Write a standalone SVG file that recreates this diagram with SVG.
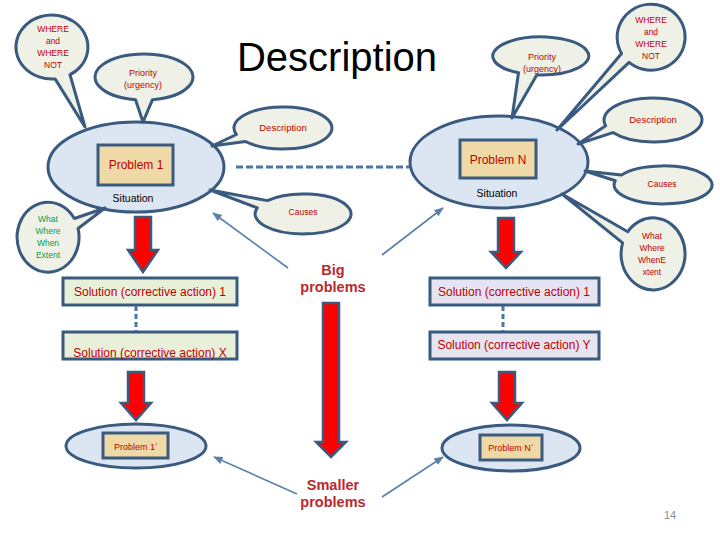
<svg xmlns="http://www.w3.org/2000/svg" width="720" height="540" viewBox="0 0 720 540">
<defs>
<marker id="ah" viewBox="0 0 10 10" refX="9" refY="5" markerWidth="6" markerHeight="6" orient="auto"><path d="M0,1 L10,5 L0,9 Z" fill="#5b80ab"/></marker>
<style>
text{font-family:"Liberation Sans",Arial,sans-serif;text-anchor:middle}
.main{fill:#dce6f2;stroke:#3a5a80;stroke-width:3}
.co{fill:#eff1e6;stroke:#3a5a80;stroke-width:3;stroke-linejoin:round}
.pr{fill:#efd9a6;stroke:#3a5a80;stroke-width:3}
.solg{fill:#e9f0da;stroke:#3a5a80;stroke-width:3}
.soll{fill:#e5e4f0;stroke:#3a5a80;stroke-width:3}
.arr{fill:#ff0000;stroke:#3a5a80;stroke-width:2.5;stroke-linejoin:miter}
.thin{stroke:#5b80ab;stroke-width:1.6;fill:none;marker-end:url(#ah)}
.dash{stroke:#4f74a8;stroke-width:3;stroke-dasharray:7 3;fill:none}
.r{fill:#c00000}
.g{fill:#00a050}
.s{font-size:8.5px}
.big{font-size:14.5px;font-weight:bold;fill:#b8282d}
</style>
</defs>
<rect width="720" height="540" fill="#ffffff"/>
<text x="337" y="71" style="font-size:40px" fill="#000">Description</text>
<g id="problem1">
<ellipse class="main" cx="136" cy="167" rx="88" ry="45"/>
<rect class="pr" x="98" y="145" width="75" height="40"/>
<text x="136" y="169" class="r" style="font-size:12px">Problem 1</text>
<text x="133" y="202" style="font-size:10.5px" fill="#000">Situation</text>
</g>
<g id="problemN">
<ellipse class="main" cx="499" cy="162" rx="89" ry="46"/>
<rect class="pr" x="460" y="140" width="76" height="38"/>
<text x="498" y="164" class="r" style="font-size:12px">Problem N</text>
<text x="497" y="197" style="font-size:10.5px" fill="#000">Situation</text>
</g>
<g id="where-left">
<path class="co" d="M70,74.7 A36 32 0 1 0 55.1,78.9 L85,127 Z"/>
<text class="r s" x="53" y="32">WHERE</text><text class="r s" x="53" y="44">and</text><text class="r s" x="53" y="56">WHERE</text><text class="r s" x="53" y="68">NOT</text>
</g>
<g id="priority-left">
<path class="co" d="M152.5,99.65 A49 23 0 1 0 135.5,99.65 L143,122 Z"/>
<text class="r" style="font-size:9px" x="143" y="76">Priority</text><text class="r" style="font-size:9px" x="143" y="88">(urgency)</text>
</g>
<g id="priority-right">
<path class="co" d="M536.8,74.9 A48 19 0 1 0 518.5,72.8 L512,118 Z"/>
<text class="r" style="font-size:9px" x="542" y="60">Priority</text><text class="r" style="font-size:9px" x="542" y="72">(urgency)</text>
</g>
<g id="where-right">
<path class="co" d="M629.1,62.3 A34 33 0 1 0 621.6,53.5 L557,130 Z"/>
<text class="r s" x="651" y="23">WHERE</text><text class="r s" x="651" y="35">and</text><text class="r s" x="651" y="47">WHERE</text><text class="r s" x="651" y="59">NOT</text>
</g>
<g id="description-right">
<path class="co" d="M612.9,132.6 A49 22 0 1 0 605.7,125.7 L578,144 Z"/>
<text class="r" style="font-size:9.5px" x="653" y="123">Description</text>
</g>
<g id="description-mid">
<path class="co" d="M245.5,141.5 A49 21 0 1 0 236.4,134.5 L212,146 Z"/>
<text class="r" style="font-size:9.5px" x="283" y="131">Description</text>
</g>
<g id="causes-left">
<path class="co" d="M257.4,207.8 A48 20 0 1 0 267.3,200.6 L210,190 Z"/>
<text class="r s" x="303" y="215">Causes</text>
</g>
<g id="causes-right">
<path class="co" d="M615.3,180.7 A49 19 0 1 0 621.4,174.9 L585,171 Z"/>
<text class="r s" x="662" y="187">Causes</text>
</g>
<g id="what-left">
<path class="co" d="M74.3,218.5 A31 35 0 1 0 78.1,228.5 L105,208 Z"/>
<text class="g s" x="48" y="222">What</text><text class="g s" x="48" y="234">Where</text><text class="g s" x="48" y="246">When</text><text class="g s" x="48" y="258">Extent</text>
</g>
<g id="what-right">
<path class="co" d="M622.6,242.9 A32 36 0 1 0 627.8,231.8 L562,194 Z"/>
<text class="r s" x="652" y="239">What</text><text class="r s" x="652" y="251">Where</text><text class="r s" x="652" y="263">WhenE</text><text class="r s" x="652" y="275">xtent</text>
</g>
<g id="solution-1-left">
<rect class="solg" x="63" y="278" width="174" height="27"/>
<text class="r" style="font-size:12px" x="150" y="296">Solution (corrective action) 1</text>
</g>
<g id="solution-x">
<rect class="solg" x="63" y="332" width="174" height="27"/>
<text class="r" style="font-size:12px" x="150" y="357">Solution (corrective action) X</text>
</g>
<g id="solution-1-right">
<rect class="soll" x="430" y="278" width="169" height="27"/>
<text class="r" style="font-size:12px" x="514" y="296">Solution (corrective action) 1</text>
</g>
<g id="solution-y">
<rect class="soll" x="430" y="332" width="169" height="27"/>
<text class="r" style="font-size:12px" x="514" y="349">Solution (corrective action) Y</text>
</g>
<g id="problem1-prime">
<ellipse class="main" cx="136" cy="446" rx="70" ry="22"/>
<rect class="pr" x="103" y="433" width="65" height="25"/>
<text class="r" style="font-size:9px" x="136" y="450">Problem 1´</text>
</g>
<g id="problemN-prime">
<ellipse class="main" cx="511" cy="448" rx="69" ry="23"/>
<rect class="pr" x="480" y="435" width="62" height="25"/>
<text class="r" style="font-size:9px" x="511" y="451">Problem N´</text>
</g>
<g id="big-problems">
<text class="big" x="333" y="275">Big</text><text class="big" x="333" y="292">problems</text>
</g>
<g id="smaller-problems">
<text class="big" x="333" y="490">Smaller</text><text class="big" x="333" y="507">problems</text>
</g>
<g id="connectors">
<line class="dash" x1="236" y1="167" x2="409" y2="167"/>
<line class="dash" x1="136" y1="306" x2="136" y2="331" style="stroke-dasharray:5 3"/>
<line class="dash" x1="503" y1="306" x2="503" y2="331" style="stroke-dasharray:5 3"/>
<polygon class="arr" points="135,217 151,217 151,250 158,250 143,272 128,250 135,250"/>
<polygon class="arr" points="498,218 514,218 514,252 521,252 506,268 491,252 498,252"/>
<polygon class="arr" points="128,372 144,372 144,403 151,403 136,420 121,403 128,403"/>
<polygon class="arr" points="499,372 515,372 515,403 522,403 507,420 492,403 499,403"/>
<polygon class="arr" points="323,303 339,303 339,442 346,442 331,457 316,442 323,442"/>
<line class="thin" x1="288" y1="268" x2="213" y2="213"/>
<line class="thin" x1="382" y1="255" x2="443" y2="208"/>
<line class="thin" x1="297" y1="494" x2="214" y2="457"/>
<line class="thin" x1="382" y1="497" x2="443" y2="457"/>
</g>
<text x="670" y="519" style="font-size:11px" fill="#8c8c8c">14</text>
</svg>
